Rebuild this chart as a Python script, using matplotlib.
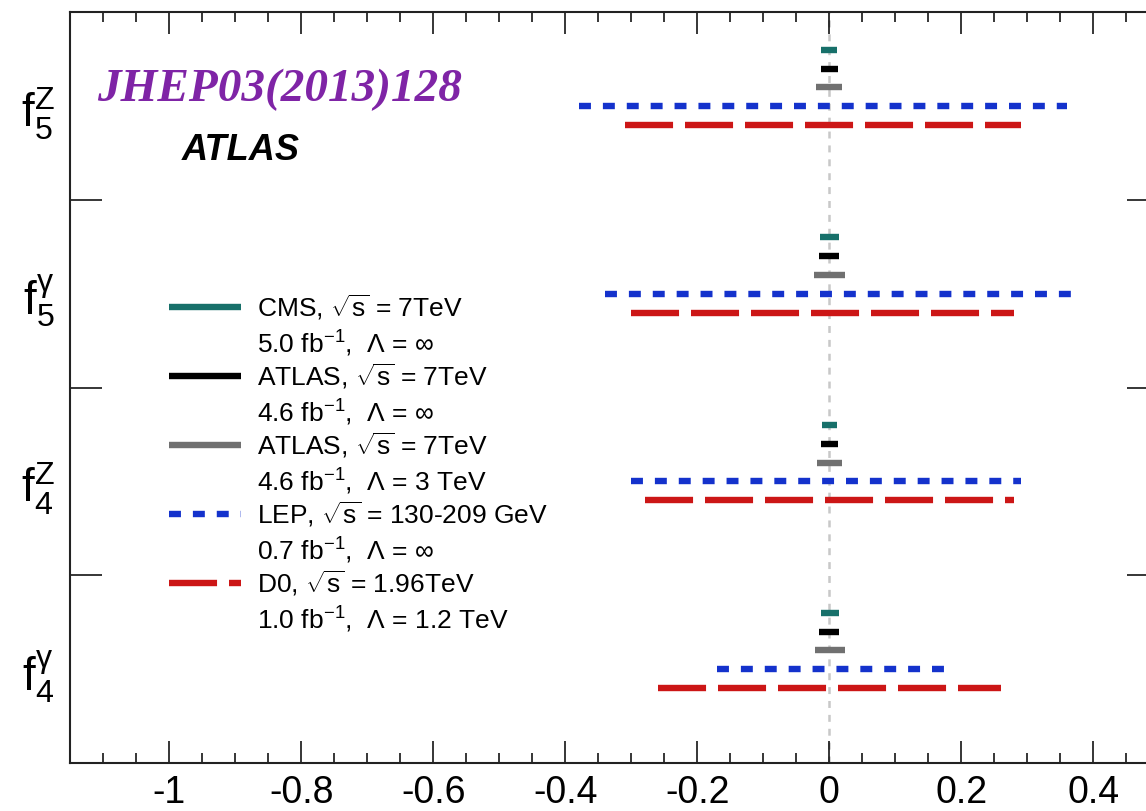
import numpy as np
import matplotlib
matplotlib.use('Agg')
import matplotlib.pyplot as plt
from matplotlib.ticker import MultipleLocator, FuncFormatter

plt.rcParams['font.family'] = ['Liberation Sans', 'DejaVu Sans']
plt.rcParams['mathtext.fontset'] = 'custom'
plt.rcParams['mathtext.rm'] = 'Liberation Sans'
plt.rcParams['mathtext.it'] = 'Liberation Sans:italic'
plt.rcParams['mathtext.bf'] = 'Liberation Sans:bold'
plt.rcParams['axes.unicode_minus'] = False
plt.rcParams['lines.scale_dashes'] = False

# couplings, from bottom to top
couplings = [r'$\mathregular{f_4^{\gamma}}$', r'$\mathregular{f_4^{Z}}$',
             r'$\mathregular{f_5^{\gamma}}$', r'$\mathregular{f_5^{Z}}$']

# 95% CL limits per coupling (same order as couplings)
cms_lo = [-0.013, -0.011, -0.014, -0.012]
cms_hi = [0.015, 0.012, 0.014, 0.012]
atlas_lo = [-0.015, -0.013, -0.016, -0.013]
atlas_hi = [0.015, 0.013, 0.015, 0.013]
atlas3_lo = [-0.022, -0.019, -0.023, -0.020]
atlas3_hi = [0.023, 0.019, 0.023, 0.019]
lep_lo = [-0.17, -0.30, -0.34, -0.38]
lep_hi = [0.18, 0.29, 0.38, 0.36]
d0_lo = [-0.26, -0.28, -0.30, -0.31]
d0_hi = [0.26, 0.28, 0.28, 0.29]

# legend text (two lines per entry)
label_top = [r'CMS, $\sqrt{\mathregular{s}}$ = 7TeV',
             r'ATLAS, $\sqrt{\mathregular{s}}$ = 7TeV',
             r'ATLAS, $\sqrt{\mathregular{s}}$ = 7TeV',
             r'LEP, $\sqrt{\mathregular{s}}$ = 130-209 GeV',
             r'D0, $\sqrt{\mathregular{s}}$ = 1.96TeV']
label_bot = [r'5.0 fb$^{\mathregular{-1}}$,  $\Lambda$ = $\infty$',
             r'4.6 fb$^{\mathregular{-1}}$,  $\Lambda$ = $\infty$',
             r'4.6 fb$^{\mathregular{-1}}$,  $\Lambda$ = 3 TeV',
             r'0.7 fb$^{\mathregular{-1}}$,  $\Lambda$ = $\infty$',
             r'1.0 fb$^{\mathregular{-1}}$,  $\Lambda$ = 1.2 TeV']

# styles
lows = [cms_lo, atlas_lo, atlas3_lo, lep_lo, d0_lo]
highs = [cms_hi, atlas_hi, atlas3_hi, lep_hi, d0_hi]
colors = ['#17706a', '#000000', '#707070', '#1432cc', '#cc1616']
dashes = [None, None, None, (0, (8.6, 8.6)), (0, (34.6, 8.6))]
row_off = [0.8, 0.7, 0.6, 0.5, 0.4]
lw = 4.6

fig = plt.figure(figsize=(11.46, 8.11), dpi=100)
ax = fig.add_axes([70.4 / 1146, 48 / 811, 1088.9 / 1146, 750.8 / 811])

# zero line
ax.axvline(0, color='#c8c8c8', lw=1.8, ls=(0, (5, 5)), zorder=1)

for lo, hi, col, ds, off in zip(lows, highs, colors, dashes, row_off):
    for i in range(len(couplings)):
        ax.plot([lo[i], hi[i]], [i + off, i + off], color=col, lw=lw,
                ls='-' if ds is None else ds,
                solid_capstyle='butt', dash_capstyle='butt', zorder=3)

# legend drawn by hand (handle on first line)
y0 = 0.6071
dy = 0.0918
for k, (col, ds) in enumerate(zip(colors, dashes)):
    y = y0 - k * dy
    ax.plot([0.0906, 0.1567], [y, y], transform=ax.transAxes, color=col,
            lw=lw, ls='-' if ds is None else ds,
            solid_capstyle='butt', dash_capstyle='butt', clip_on=False)
    ax.text(0.1714, y - 0.0127, label_top[k], transform=ax.transAxes,
            fontsize=19, va='baseline', ha='left')
    ax.text(0.1714, y - 0.0610, label_bot[k], transform=ax.transAxes,
            fontsize=19, va='baseline', ha='left')

ax.text(0.1025, 0.8035, 'ATLAS', transform=ax.transAxes, fontsize=26,
        fontweight='bold', fontstyle='italic', va='baseline')
ax.text(0.0244, 0.882, 'JHEP03(2013)128', transform=ax.transAxes,
        fontsize=34, family='Liberation Serif', fontweight='bold',
        fontstyle='italic', color='#7f24a6', va='baseline')

ax.set_xlim(-1.15, 0.5)
ax.set_ylim(0, 4)

ax.xaxis.set_major_locator(MultipleLocator(0.2))
ax.xaxis.set_minor_locator(MultipleLocator(0.05))
ax.xaxis.set_major_formatter(FuncFormatter(lambda v, p: '%g' % round(v, 2)))
ax.tick_params(axis='x', which='major', direction='in', length=15.8,
               width=1.1, top=True, labelsize=27, pad=8.5)
ax.tick_params(axis='x', which='minor', direction='in', length=7.2,
               width=1.1, top=True)

ax.set_yticks([1, 2, 3])
ax.set_yticklabels([])
ax.set_yticks([0.5, 1.5, 2.5, 3.5], couplings, minor=True)
ax.tick_params(axis='y', which='major', direction='in', length=23,
               width=1.1, right=True)
ax.tick_params(axis='y', which='minor', length=0, labelsize=33, pad=11.5)

for s in ax.spines.values():
    s.set_linewidth(1.5)
    s.set_color('#222222')

fig.savefig('out.png', dpi=100)
